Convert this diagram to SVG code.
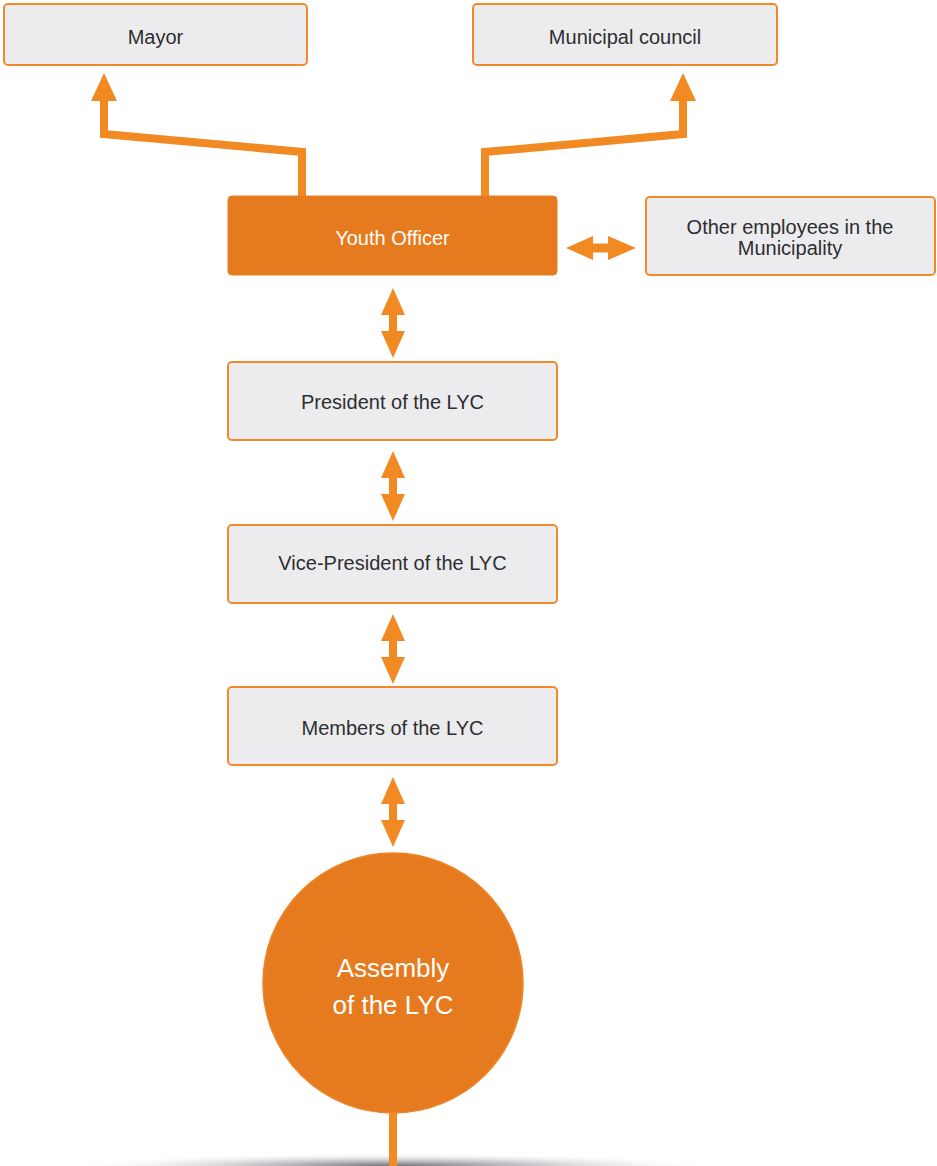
<svg xmlns="http://www.w3.org/2000/svg" width="937" height="1166" viewBox="0 0 937 1166">
  <style>
    .box { fill: #ECECEE; stroke: #F28A2B; stroke-width: 2; }
    .lbl { font-family: "Liberation Sans", Arial, sans-serif; font-size: 20px; fill: #2E2E30; text-anchor: middle; }
    .wlbl { font-family: "Liberation Sans", Arial, sans-serif; fill: #FFFFFF; text-anchor: middle; }
    .link { fill: none; stroke: #F28A24; stroke-width: 8; stroke-linejoin: miter; }
    .head { fill: #F28A24; }
  </style>
  <defs>
    <radialGradient id="floorShade" cx="0.5" cy="0.5" r="0.5">
      <stop offset="0" stop-color="#4A4A52" stop-opacity="0.8"/>
      <stop offset="0.45" stop-color="#7E7E86" stop-opacity="0.4"/>
      <stop offset="1" stop-color="#FFFFFF" stop-opacity="0"/>
    </radialGradient>
    <!-- vertical two-way arrow, 70 tall, origin at its top tip -->
    <path id="vArrow" class="head" d="M0,0 L12,27 L4,27 L4,43 L12,43 L0,70 L-12,43 L-4,43 L-4,27 L-12,27 Z"/>
  </defs>

  <!-- ground shadow under the assembly stem -->
  <ellipse cx="393" cy="1166" rx="330" ry="13" fill="url(#floorShade)"/>

  <g id="connectors">
    <!-- Youth Officer up to Mayor -->
    <polyline class="link" points="302,197 302,152 104,134 104,98"/>
    <path class="head" d="M104,73 L117,101 L91,101 Z"/>
    <!-- Youth Officer up to Municipal council -->
    <polyline class="link" points="485,197 485,152 683,134 683,98"/>
    <path class="head" d="M683,73 L696,101 L670,101 Z"/>
    <!-- Youth Officer to other employees -->
    <path class="head" d="M566,248 L593,236 L593,243.5 L608,243.5 L608,236 L636,248 L608,260 L608,252.5 L593,252.5 L593,260 Z"/>
    <!-- chain down the council -->
    <use href="#vArrow" x="393" y="288"/>
    <use href="#vArrow" x="393" y="451"/>
    <use href="#vArrow" x="393" y="614"/>
    <use href="#vArrow" x="393" y="777"/>
    <!-- stem under the assembly -->
    <line x1="393" y1="1112" x2="393" y2="1166" stroke="#F28A24" stroke-width="8"/>
  </g>

  <g id="mayor">
    <rect class="box" x="4" y="4" width="303" height="61" rx="4"/>
    <text class="lbl" x="155.5" y="44">Mayor</text>
  </g>

  <g id="municipal-council">
    <rect class="box" x="473" y="4" width="304" height="61" rx="4"/>
    <text class="lbl" x="625" y="44">Municipal council</text>
  </g>

  <g id="youth-officer">
    <rect x="228" y="196" width="329" height="79" rx="4" fill="#E67A1E" stroke="#E8801F" stroke-width="1"/>
    <text class="wlbl" x="392.5" y="245" font-size="20">Youth Officer</text>
  </g>

  <g id="other-employees">
    <rect class="box" x="646" y="197" width="289" height="78" rx="4"/>
    <text class="lbl" x="790" y="234" font-size="19.5">Other employees in the</text>
    <text class="lbl" x="790" y="255" font-size="19.5">Municipality</text>
  </g>

  <g id="president">
    <rect class="box" x="228" y="362" width="329" height="78" rx="4"/>
    <text class="lbl" x="392.5" y="409">President of the LYC</text>
  </g>

  <g id="vice-president">
    <rect class="box" x="228" y="525" width="329" height="78" rx="4"/>
    <text class="lbl" x="392.5" y="570">Vice-President of the LYC</text>
  </g>

  <g id="members">
    <rect class="box" x="228" y="687" width="329" height="78" rx="4"/>
    <text class="lbl" x="392.5" y="735">Members of the LYC</text>
  </g>

  <g id="assembly">
    <circle cx="393" cy="983" r="130" fill="#E67A1E" stroke="#EE8527" stroke-width="1.5"/>
    <text class="wlbl" x="393" y="977" font-size="26">Assembly</text>
    <text class="wlbl" x="393" y="1014" font-size="26">of the LYC</text>
  </g>
</svg>
